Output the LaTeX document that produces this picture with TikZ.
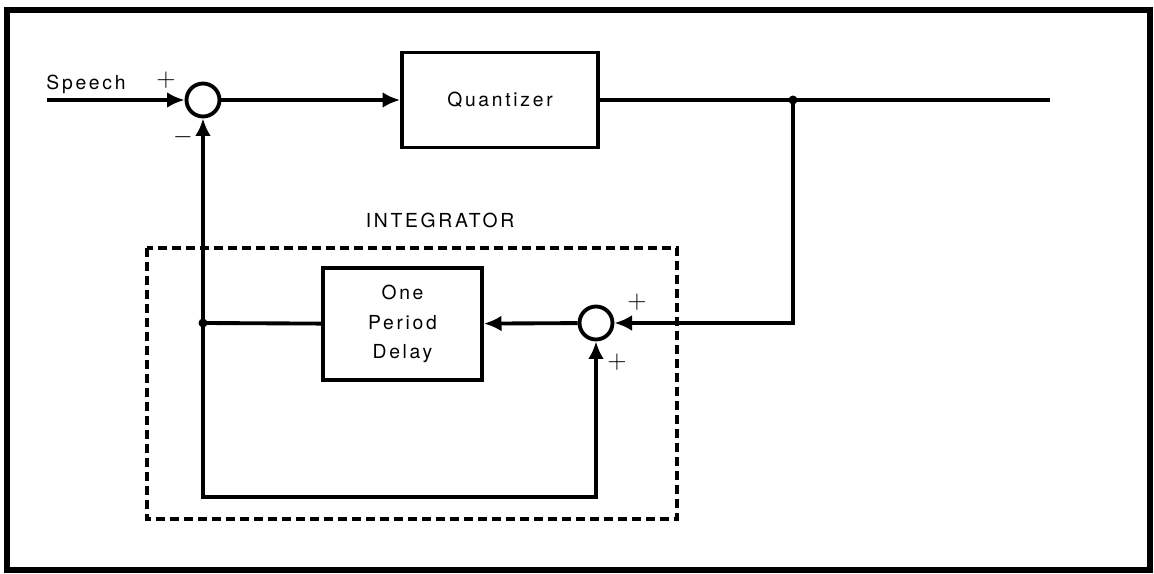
\documentclass[tikz,border=0pt]{standalone}
\usepackage{fontspec}
\setmainfont[LetterSpace=14]{TeX Gyre Heros}
\usetikzlibrary{positioning, arrows.meta}

\tikzset{
  block/.style={draw, rectangle, inner sep=0pt, line width=2.2pt},
  summer/.style={draw, circle, minimum size=0.66cm, inner sep=0pt, line width=2.2pt},
  lbl/.style={font=\fontsize{11}{17}\selectfont},
  sign/.style={inner sep=0pt, font=\Large},
  dashedbox/.style={line width=2pt, dash pattern=on 0.18cm off 0.1cm}
}

\begin{document}
\begin{tikzpicture}[x=0.02cm, y=-0.02cm, >={Latex[length=10pt, width=9pt]}, line width=2.2pt]
          \useasboundingbox (0,0) rectangle (1154,574);
          % outer frame
          \draw[line width=3.6pt] (7,10) rectangle (1150,570);
          % forward path
          \coordinate (spin) at (47,100);
          \node[summer] (sumin) at (203,100) {};
          \node[block, lbl, minimum width=3.92cm, minimum height=1.9cm] (quant) at (500,100) {Quantizer};
          \coordinate (split) at (793,100);
          \coordinate (out) at (1050,100);
          % integrator
          \node[summer] (sumint) at (596,323) {};
          \node[block, lbl, align=center, minimum width=3.18cm, minimum height=2.24cm] (delay) at (402.5,324) {One\\Period\\Delay};
          \coordinate (tap) at (203,323);
          \coordinate (loopl) at (203,497);
          \draw[dashedbox] (147,248) rectangle (677,519);
          % connectors
          \draw[->] (spin) -- (sumin);
          \draw[->] (sumin) -- (quant);
          \draw (quant) -- (out);
          \draw[->] (split) |- (sumint);
          \draw[->] (sumint) -- (delay);
          \draw (delay) -- (tap);
          \draw[->] (tap) -- (sumin);
          \draw[->] (tap) -- (loopl) -| (sumint);
          \fill (split) circle (0.09cm);
          \fill (tap) circle (0.09cm);
          % labels
          \node[lbl] (speechlbl) at (86,84) {Speech};
          \node[lbl] (intlbl) at (440,220) {INTEGRATOR};
          \node[sign] (plusA) at (166,80) {$+$};
          \node[sign] (minusA) at (183,137) {$-$};
          \node[sign] (plusB) at (637,302) {$+$};
          \node[sign] (plusC) at (617,362) {$+$};
        \end{tikzpicture}
\end{document}
